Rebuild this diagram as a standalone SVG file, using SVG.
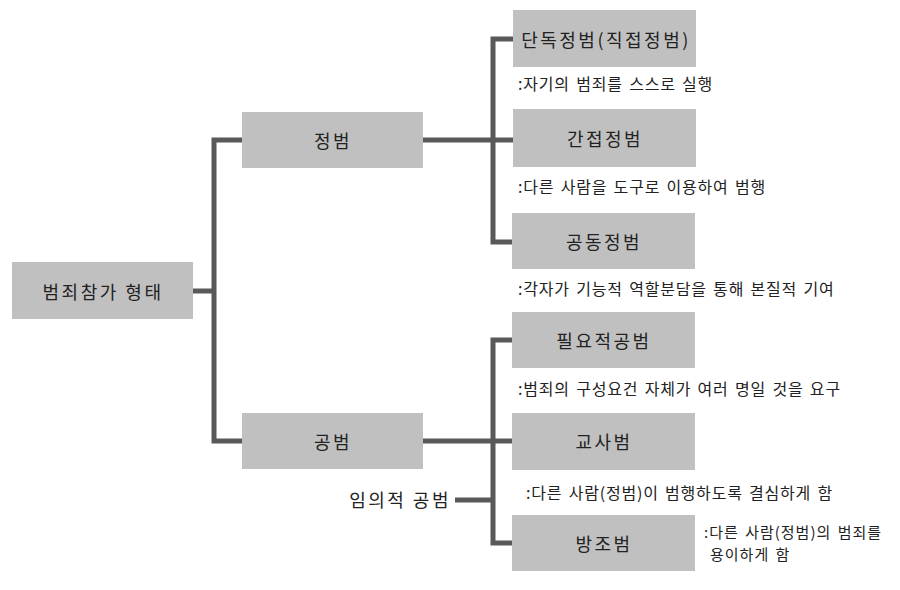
<svg xmlns="http://www.w3.org/2000/svg" width="900" height="590" viewBox="0 0 900 590">
<style>
.box{fill:#c0c0c0;}
.lbl{font-family:"Noto Sans CJK KR","Noto Sans",sans-serif;font-size:18px;fill:#222;text-anchor:middle;dominant-baseline:central;letter-spacing:2.5px;}
.note{font-family:"Noto Sans CJK KR","Noto Sans",sans-serif;font-size:16px;fill:#222;letter-spacing:0.8px;word-spacing:2px;}
.ln{fill:none;stroke:#595959;stroke-width:5;stroke-linejoin:miter;stroke-linecap:butt;}
</style>
<rect width="900" height="590" fill="#ffffff"/>
<g id="connectors">
<path class="ln" d="M193,291 H214"/>
<path class="ln" d="M242,140 H214 V441 H242"/>
<path class="ln" d="M423,140 H493"/>
<path class="ln" d="M513,39 H493 V242 H513"/>
<path class="ln" d="M493,140 H513"/>
<path class="ln" d="M423,441 H493"/>
<path class="ln" d="M513,340 H493 V543 H513"/>
<path class="ln" d="M493,441 H513"/>
<path class="ln" d="M455,500 H493"/>
</g>
<g id="root"><rect class="box" x="12" y="262" width="181" height="57"/><text class="lbl" x="103" y="291">범죄참가 형태</text></g>
<g id="jeongbeom"><rect class="box" x="242" y="112" width="181" height="56"/><text class="lbl" x="333" y="140">정범</text></g>
<g id="gongbeom"><rect class="box" x="242" y="413" width="181" height="56"/><text class="lbl" x="333" y="441">공범</text></g>
<g id="dandok"><rect class="box" x="513" y="10" width="183" height="57"/><text class="lbl" x="606" y="39">단독정범(직접정범)</text><text class="note" x="518" y="90">:자기의 범죄를 스스로 실행</text></g>
<g id="ganjeop"><rect class="box" x="513" y="109" width="183" height="58"/><text class="lbl" x="605" y="138">간접정범</text><text class="note" x="518" y="193">:다른 사람을 도구로 이용하여 범행</text></g>
<g id="gongdong"><rect class="box" x="512" y="213" width="183" height="56"/><text class="lbl" x="604" y="241">공동정범</text><text class="note" x="518" y="295">:각자가 기능적 역할분담을 통해 본질적 기여</text></g>
<g id="pilyojeok"><rect class="box" x="512" y="312" width="183" height="56"/><text class="lbl" x="604" y="340">필요적공범</text><text class="note" x="518" y="395">:범죄의 구성요건 자체가 여러 명일 것을 요구</text></g>
<g id="gyosa"><rect class="box" x="512" y="413" width="183" height="57"/><text class="lbl" x="604" y="441">교사범</text><text class="note" x="526" y="499">:다른 사람(정범)이 범행하도록 결심하게 함</text></g>
<g id="bangjo"><rect class="box" x="512" y="515" width="183" height="56"/><text class="lbl" x="604" y="543">방조범</text><text class="note" x="704" y="538" style="font-size:15px;letter-spacing:1px">:다른 사람(정범)의 범죄를<tspan x="710" y="560">용이하게 함</tspan></text></g>
<g id="imui"><text class="lbl" x="451" y="499" style="text-anchor:end">임의적 공범</text></g>
</svg>
